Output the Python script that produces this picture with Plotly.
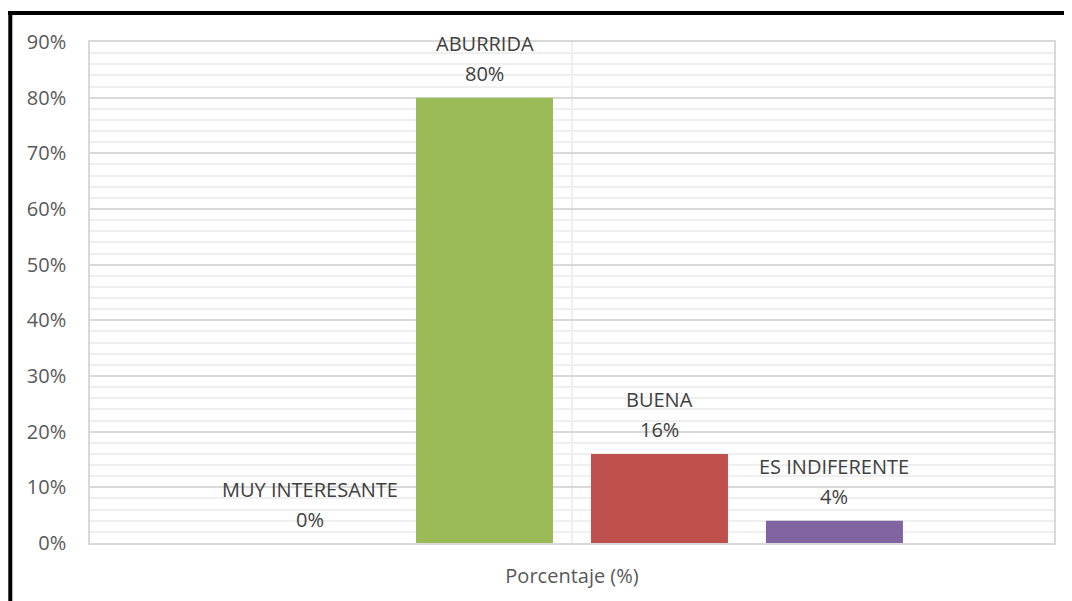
import plotly.graph_objects as go

category = ["Porcentaje (%)"]
series_names = ["MUY INTERESANTE", "ABURRIDA", "BUENA", "ES INDIFERENTE"]
series_values = [0.00, 0.80, 0.16, 0.04]
series_colors = ["#4F81BD", "#9BBB59", "#C0504D", "#8064A2"]
y_tick_vals = [0, 0.1, 0.2, 0.3, 0.4, 0.5, 0.6, 0.7, 0.8, 0.9]

BARGAP = 0.274
BARGROUPGAP = 0.217
FONT = "Open Sans"

fig = go.Figure()
for name, val, col in zip(series_names, series_values, series_colors):
    fig.add_trace(go.Bar(
        x=category, y=[val], name=name,
        marker=dict(color=col, line=dict(width=0)),
        cliponaxis=False,
    ))

# data labels (series name + value) above each bar, positioned at grouped bar centres
n = len(series_names)
slot = (1 - BARGAP) / n
annotations = []
for i, (name, val) in enumerate(zip(series_names, series_values)):
    xc = (i - (n - 1) / 2) * slot
    annotations.append(dict(x=xc, y=val, xref="x", yref="y", text=f"{val:.0%}",
                            showarrow=False, yanchor="middle", yshift=24,
                            font=dict(family=FONT, size=20, color="#404040")))
    annotations.append(dict(x=xc, y=val, xref="x", yref="y", text=name,
                            showarrow=False, yanchor="middle", yshift=54,
                            font=dict(family=FONT, size=20, color="#404040")))

# outer frame (top and left black border)
shapes = [
    dict(type="line", xref="paper", yref="paper",
         x0=(8 - 90) / 964, x1=(1080 - 90) / 964,
         y0=(545 - 13) / 503, y1=(545 - 13) / 503,
         line=dict(color="black", width=4)),
    dict(type="line", xref="paper", yref="paper",
         x0=(10.3 - 90) / 964, x1=(10.3 - 90) / 964,
         y0=(545 - 11) / 503, y1=(545 - 610) / 503,
         line=dict(color="black", width=4)),
]

fig.update_layout(
    width=1064, height=593,
    margin=dict(l=82, r=18, t=34, b=56),
    paper_bgcolor="white", plot_bgcolor="white",
    barmode="group", bargap=BARGAP, bargroupgap=BARGROUPGAP,
    showlegend=False,
    font=dict(family=FONT, size=20, color="#595959"),
    annotations=annotations,
    shapes=shapes,
)
fig.update_yaxes(
    range=[0, 0.9], tickvals=y_tick_vals, tickformat=".0%",
    showgrid=True, gridcolor="#D9D9D9", gridwidth=1.5,
    minor=dict(dtick=0.02, showgrid=True, gridcolor="#EFEFEF", gridwidth=1.5),
    showline=True, linecolor="#D9D9D9", linewidth=1.5, mirror=True,
    zeroline=False, ticks="", ticklabelstandoff=18,
    tickfont=dict(family=FONT, size=20, color="#595959"),
)
fig.update_xaxes(
    showgrid=True, gridcolor="#EFEFEF", gridwidth=2,
    showline=True, linecolor="#D9D9D9", linewidth=1.5, mirror=True,
    ticks="", ticklabelstandoff=14,
    tickfont=dict(family=FONT, size=20, color="#595959"),
)

fig.write_html("out.html")
